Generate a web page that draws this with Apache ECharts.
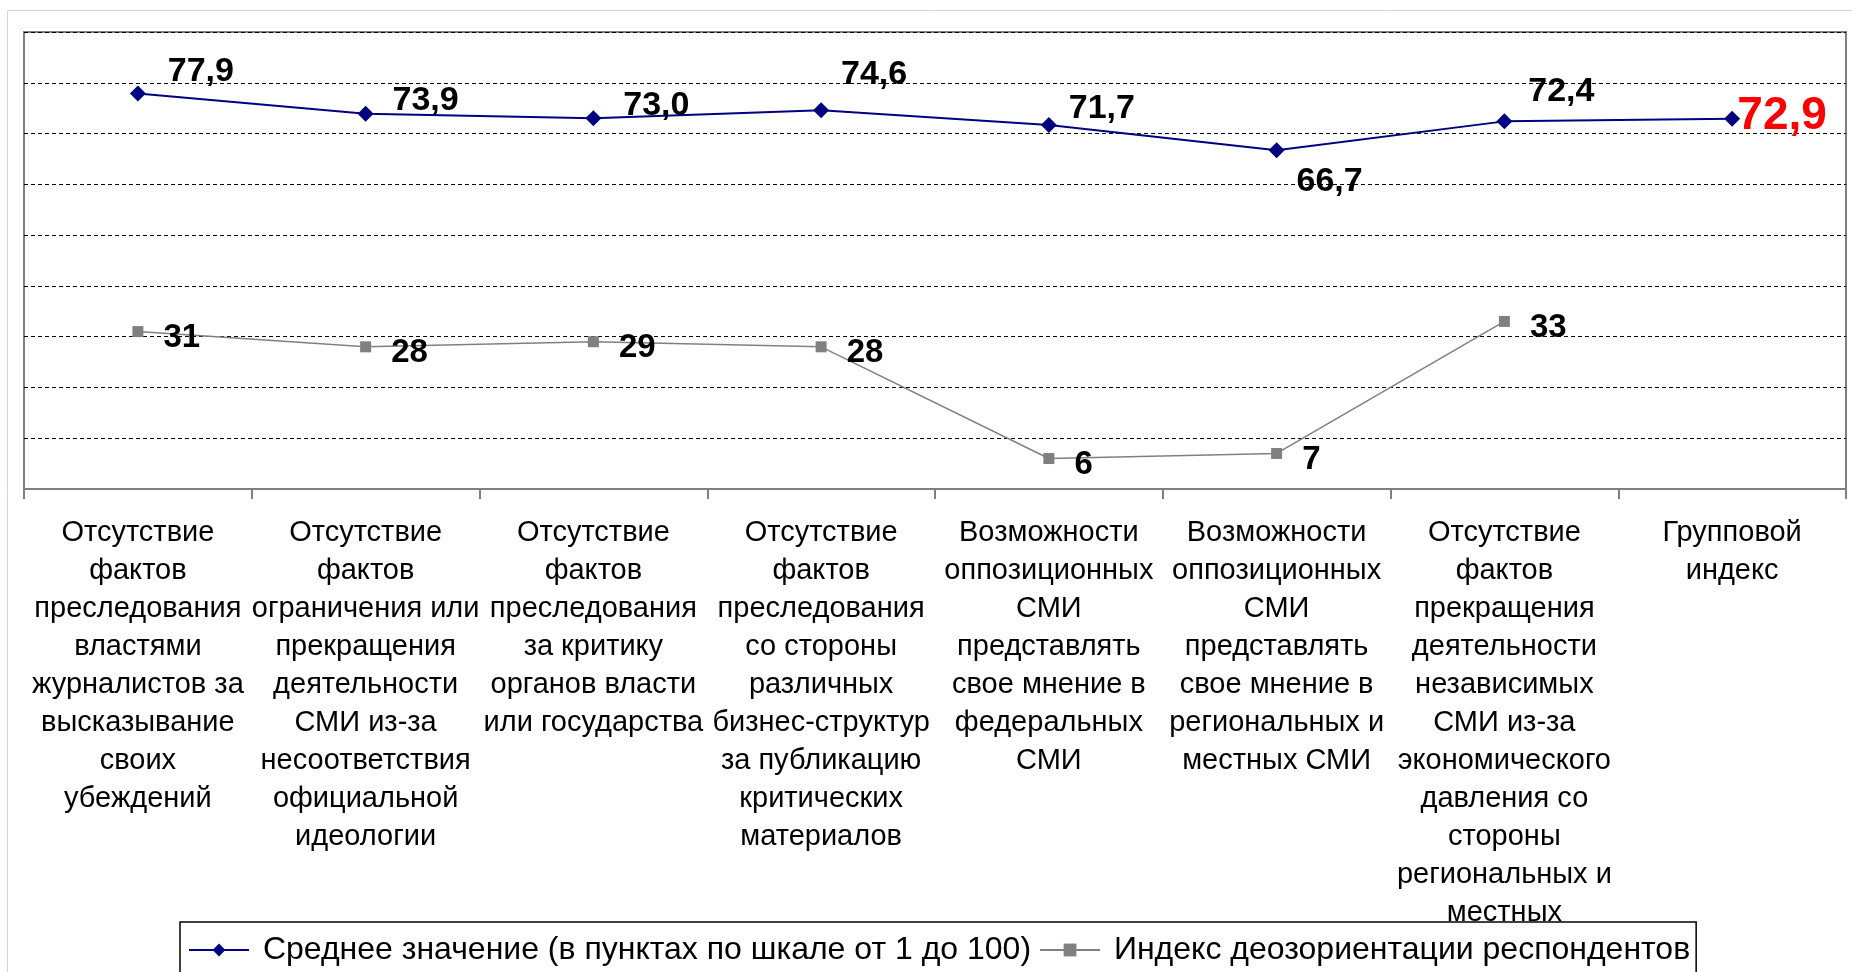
<!DOCTYPE html>
<html>
<head>
<meta charset="utf-8">
<script src="https://cdn.jsdelivr.net/npm/echarts@6/dist/echarts.min.js"></script>
<style>
  html, body { margin: 0; padding: 0; background: #fff; }
  #chart { width: 1852px; height: 972px; }
</style>
</head>
<body>
<div id="chart"></div>
<script>
// категории (подписи по оси X)
const categories = [
  'Отсутствие\nфактов\nпреследования\nвластями\nжурналистов за\nвысказывание\nсвоих\nубеждений',
  'Отсутствие\nфактов\nограничения или\nпрекращения\nдеятельности\nСМИ из-за\nнесоответствия\nофициальной\nидеологии',
  'Отсутствие\nфактов\nпреследования\nза критику\nорганов власти\nили государства',
  'Отсутствие\nфактов\nпреследования\nсо стороны\nразличных\nбизнес-структур\nза публикацию\nкритических\nматериалов',
  'Возможности\nоппозиционных\nСМИ\nпредставлять\nсвое мнение в\nфедеральных\nСМИ',
  'Возможности\nоппозиционных\nСМИ\nпредставлять\nсвое мнение в\nрегиональных и\nместных СМИ',
  'Отсутствие\nфактов\nпрекращения\nдеятельности\nнезависимых\nСМИ из-за\nэкономического\nдавления со\nстороны\nрегиональных и\nместных',
  'Групповой\nиндекс'
]
const averageValues = [77.9, 73.9, 73.0, 74.6, 71.7, 66.7, 72.4, 72.9]
const disorientationValues = [31, 28, 29, 28, 6, 7, 33, null]
const seriesNames = [
  'Среднее значение (в пунктах по шкале от 1 до 100)',
  'Индекс деозориентации респондентов'
]
const yTicks = { min: 0, max: 90, step: 10 }

// сдвиги подписей верхней линии относительно маркера
const avgLabelOffsets = [[63, -22], [60, -13], [63, -13], [53, -36], [53, -16], [53, 31], [57, -30], [50, -3]]

const chart = echarts.init(document.getElementById('chart'))

const fmt = (v) => v.toFixed(1).replace('.', ',')

const avgData = averageValues.map((v, i) => {
  const last = i === averageValues.length - 1
  return {
    value: v,
    label: {
      offset: avgLabelOffsets[i],
      fontSize: last ? 46 : 34,
      color: last ? '#ff0000' : '#000'
    }
  }
})

const option = {
  animation: false,
  backgroundColor: '#fff',
  textStyle: { fontFamily: 'Liberation Sans, Arial, sans-serif' },
  graphic: [{
    type: 'rect',
    left: 5,
    top: 8,
    shape: { width: 1900, height: 1000 },
    style: { fill: 'none', stroke: '#d4d4d4', lineWidth: 1 },
    z: -1
  }],
  grid: {
    left: 24,
    right: 6,
    top: 32,
    bottom: 483,
    show: true,
    borderColor: '#808080',
    borderWidth: 2
  },
  legend: {
    data: seriesNames,
    left: 180,
    top: 922,
    backgroundColor: '#fff',
    borderColor: '#000',
    borderWidth: 1.5,
    padding: [12, 6, 40, 8],
    itemGap: 8,
    itemWidth: 60,
    itemHeight: 16,
    formatter: (name) => ' ' + name,
    textStyle: { fontSize: 32, color: '#000' }
  },
  xAxis: {
    type: 'category',
    data: categories,
    boundaryGap: true,
    axisLine: { lineStyle: { color: '#808080', width: 2 } },
    axisTick: { show: true, length: 10, lineStyle: { color: '#808080', width: 2 } },
    axisLabel: {
      interval: 0,
      margin: 25,
      color: '#000',
      fontSize: 29,
      lineHeight: 38
    }
  },
  yAxis: {
    type: 'value',
    min: yTicks.min,
    max: yTicks.max,
    interval: yTicks.step,
    axisLine: { show: false },
    axisTick: { show: false },
    axisLabel: { show: false },
    splitLine: { lineStyle: { color: '#000', width: 1, type: [4, 3] } }
  },
  series: [
    {
      name: seriesNames[0],
      type: 'line',
      data: avgData,
      symbol: 'diamond',
      symbolSize: 16,
      lineStyle: { color: '#000080', width: 2 },
      itemStyle: { color: '#000080' },
      label: {
        show: true,
        position: 'inside',
        fontWeight: 'bold',
        formatter: (p) => fmt(p.value)
      },
      z: 3
    },
    {
      name: seriesNames[1],
      type: 'line',
      data: disorientationValues,
      symbol: 'rect',
      symbolSize: 11,
      lineStyle: { color: '#808080', width: 1.5 },
      itemStyle: { color: '#808080' },
      label: {
        show: true,
        position: 'right',
        distance: 20,
        offset: [0, 6],
        fontSize: 33,
        fontWeight: 'bold',
        color: '#000'
      },
      z: 2
    }
  ]
}

chart.setOption(option)
</script>
</body>
</html>
